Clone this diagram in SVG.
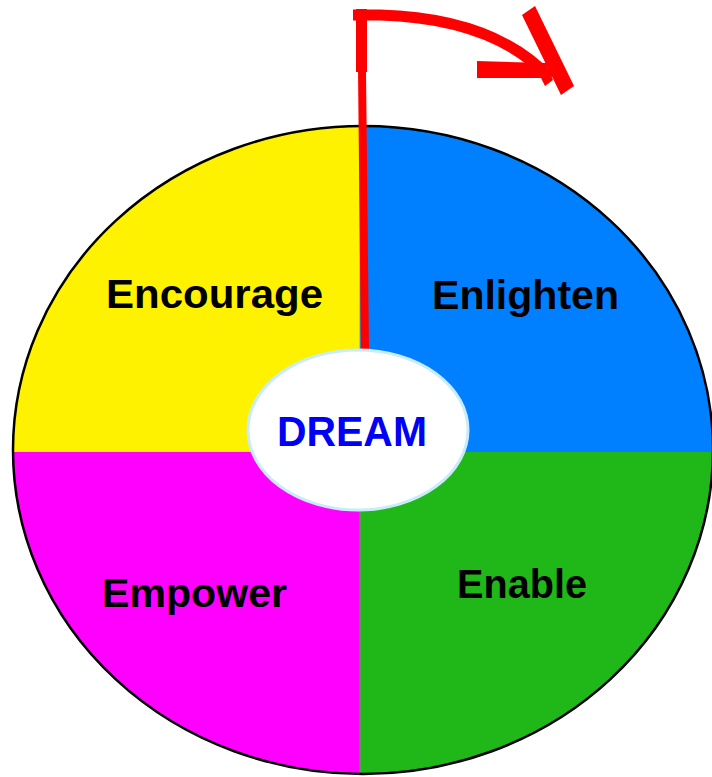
<svg xmlns="http://www.w3.org/2000/svg" width="712" height="777" viewBox="0 0 712 777">
<style>
.lbl{font-family:"Liberation Sans",Arial,sans-serif;font-weight:bold;font-size:40px;fill:#000}
.red{fill:none;stroke:#ff0000;stroke-linecap:butt}
</style>
<defs>
<clipPath id="circ"><ellipse cx="363" cy="450" rx="350" ry="324"/></clipPath>
</defs>
<rect width="712" height="777" fill="#fff"/>
<g clip-path="url(#circ)">
<g id="encourage-q"><rect x="0" y="0" width="360" height="452" fill="#fff200"/></g>
<g id="enlighten-q"><rect x="360" y="0" width="360" height="452" fill="#0080ff"/></g>
<g id="empower-q"><rect x="0" y="452" width="360" height="330" fill="#ff00ff"/></g>
<g id="enable-q"><rect x="360" y="452" width="360" height="330" fill="#20b818"/></g>
<line x1="360" y1="120" x2="360" y2="780" stroke="#8a8a8a" stroke-width="0.8"/>
</g>
<ellipse cx="363" cy="450" rx="350" ry="324" fill="none" stroke="#000" stroke-width="2.5"/>
<g id="connectors">
<line class="red" x1="365" y1="352" x2="362" y2="70" stroke-width="8"/>
<line class="red" x1="361.5" y1="9" x2="361.5" y2="72" stroke-width="11"/>
<path class="red" d="M353,15 L380,15 C450,17 510,35 550,78" stroke-width="11"/>
<polygon fill="#ff0000" points="477,61 546,63 553,80 545,86 541,78 477,78"/>
<polygon fill="#ff0000" points="522,15 535,6 574,86 561,95"/>
</g>
<g id="encourage"><text class="lbl" x="106" y="308" textLength="217" lengthAdjust="spacingAndGlyphs">Encourage</text></g>
<g id="enlighten"><text class="lbl" x="432" y="309" textLength="187" lengthAdjust="spacingAndGlyphs">Enlighten</text></g>
<g id="empower"><text class="lbl" x="102" y="607" textLength="185" lengthAdjust="spacingAndGlyphs">Empower</text></g>
<g id="enable"><text class="lbl" x="457" y="598" textLength="130" lengthAdjust="spacingAndGlyphs">Enable</text></g>
<g id="dream">
<ellipse cx="358" cy="430" rx="110" ry="80" fill="#fff" stroke="#c8ecfa" stroke-width="3"/>
<text class="lbl" x="277" y="446" textLength="150" lengthAdjust="spacingAndGlyphs" style="font-size:43px;fill:#0000f5">DREAM</text>
</g>
</svg>
